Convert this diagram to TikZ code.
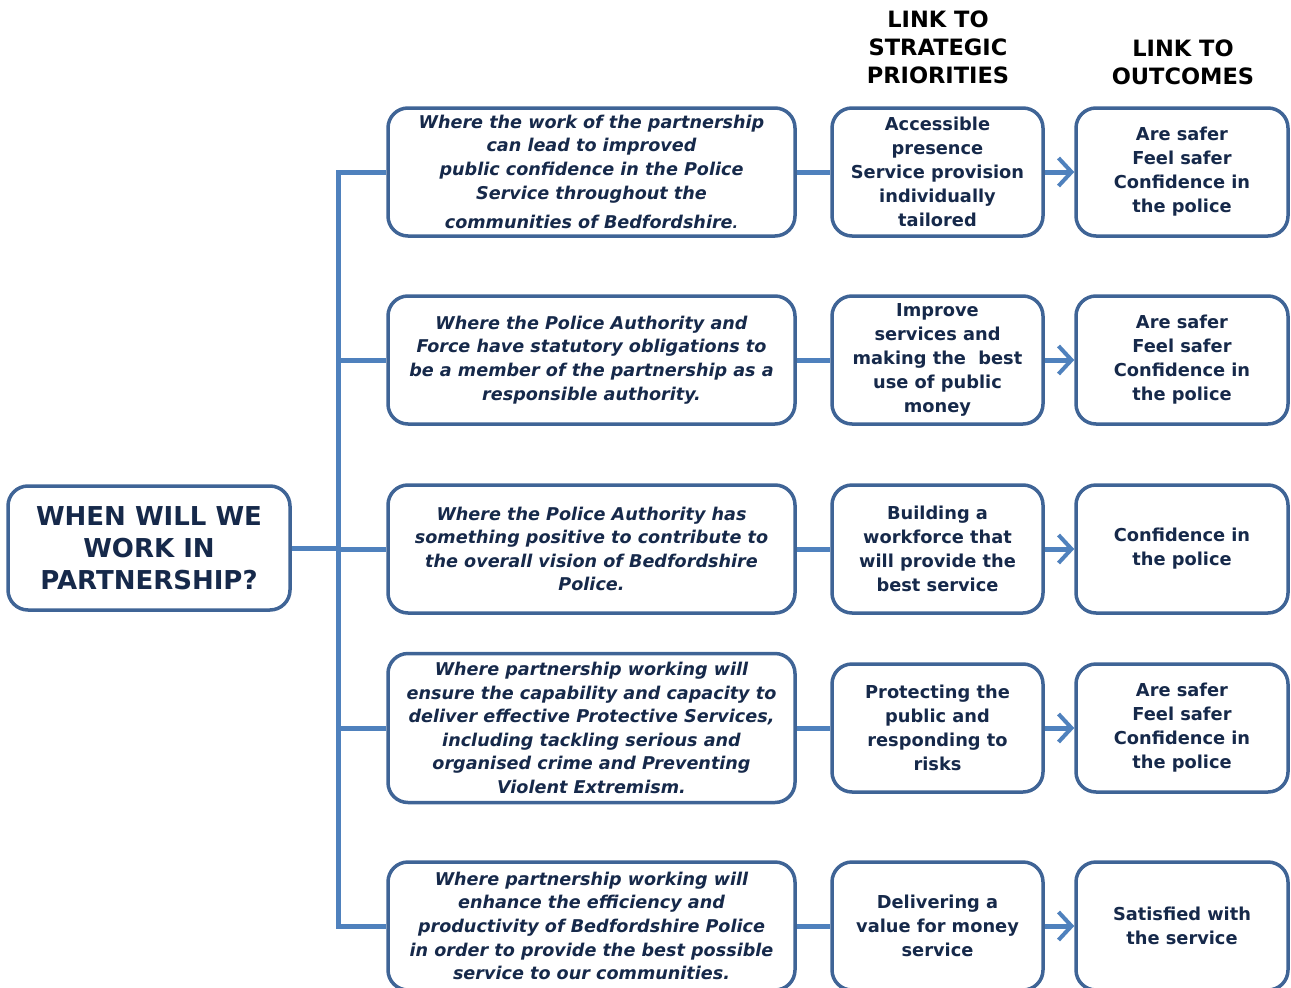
\documentclass[tikz,border=0pt]{standalone}
\usepackage{fontspec}
\setmainfont{DejaVu Sans}
\usetikzlibrary{arrows.meta}

\definecolor{boxline}{HTML}{3F6496}
\definecolor{linkline}{HTML}{4F81BD}
\definecolor{navy}{HTML}{16294A}

\tikzset{
  box/.style={draw=boxline, line width=3.5pt, rounded corners=20pt, fill=white,
    align=center, text=navy, inner sep=2pt},
  mainbox/.style={box, minimum width=282pt, minimum height=124pt,
    font=\bfseries\fontsize{26}{32}\selectfont},
  whenbox/.style={box, minimum width=407pt, minimum height=128pt,
    font=\bfseries\itshape\fontsize{17.6}{23.6}\selectfont},
  prioritybox/.style={box, minimum width=211pt, minimum height=128pt,
    font=\bfseries\fontsize{17.8}{24}\selectfont},
  outcomebox/.style={box, minimum width=212pt, minimum height=128pt,
    font=\bfseries\fontsize{17.8}{24}\selectfont},
  header/.style={align=center, font=\bfseries\fontsize{22.5}{28}\selectfont},
  conn/.style={draw=linkline, line width=5pt},
  linkto/.style={conn, -{Straight Barb[length=13pt,width=28pt,line width=4pt]}},
}

\begin{document}
\begin{tikzpicture}[x=1pt,y=-1pt]
  \useasboundingbox (0,0) rectangle (1291,988);

  % headers
  \node[header] (hprio) at (938,47) {LINK TO\\STRATEGIC\\PRIORITIES};
  \node[header] (hout) at (1183,62) {LINK TO\\OUTCOMES};

  % question
  \node[mainbox] (main) at (149,548) {WHEN WILL WE\\WORK IN\\PARTNERSHIP?};

  % when
  \node[whenbox] (w1) at (591.5,172) {Where the work of the partnership\\can lead to improved\\public confidence in the Police\\Service throughout the\\[6pt]communities of Bedfordshire{\Large.}};
  \node[whenbox] (w2) at (591.5,360) {Where the Police Authority and\\Force have statutory obligations to\\be a member of the partnership as a\\responsible authority.};
  \node[whenbox] (w3) at (591.5,549) {Where the Police Authority has\\something positive to contribute to\\the overall vision of Bedfordshire\\Police.};
  \node[whenbox, minimum height=149pt] (w4) at (591.5,728) {Where partnership working will\\ensure the capability and capacity to\\deliver effective Protective Services,\\including tackling serious and\\organised crime and Preventing\\Violent Extremism.};
  \node[whenbox] (w5) at (591.5,926) {Where partnership working will\\enhance the efficiency and\\productivity of Bedfordshire Police\\in order to provide the best possible\\service to our communities.};

  % priorities
  \node[prioritybox] (p1) at (937.5,172) {Accessible\\presence\\Service provision\\individually\\tailored};
  \node[prioritybox] (p2) at (937.5,360) {Improve\\services and\\making the\ \ best\\use of public\\money};
  \node[prioritybox] (p3) at (937.5,549) {Building a\\workforce that\\will provide the\\best service};
  \node[prioritybox] (p4) at (937.5,728) {Protecting the\\public and\\responding to\\risks};
  \node[prioritybox] (p5) at (937.5,926) {Delivering a\\value for money\\service};

  % outcomes
  \node[outcomebox] (o1) at (1182,172) {Are safer\\Feel safer\\Confidence in\\the police};
  \node[outcomebox] (o2) at (1182,360) {Are safer\\Feel safer\\Confidence in\\the police};
  \node[outcomebox] (o3) at (1182,549) {Confidence in\\the police};
  \node[outcomebox] (o4) at (1182,728) {Are safer\\Feel safer\\Confidence in\\the police};
  \node[outcomebox] (o5) at (1182,926) {Satisfied with\\the service};

  % tree
  \coordinate (trunk) at (338,0);
  \draw[conn, line join=miter] (w1.west) -- (w1.west -| trunk) -- (w5.west -| trunk) -- (w5.west);
  \draw[conn] (main.east) -- (main.east -| trunk);
  \draw[conn] (w2.west -| trunk) -- (w2.west);
  \draw[conn] (w3.west -| trunk) -- (w3.west);
  \draw[conn] (w4.west -| trunk) -- (w4.west);

  % links
  \draw[conn] (w1) -- (p1);
  \draw[conn] (w2) -- (p2);
  \draw[conn] (w3) -- (p3);
  \draw[conn] (w4) -- (p4);
  \draw[conn] (w5) -- (p5);
  \draw[linkto] (p1) -- (o1);
  \draw[linkto] (p2) -- (o2);
  \draw[linkto] (p3) -- (o3);
  \draw[linkto] (p4) -- (o4);
  \draw[linkto] (p5) -- (o5);
\end{tikzpicture}
\end{document}
